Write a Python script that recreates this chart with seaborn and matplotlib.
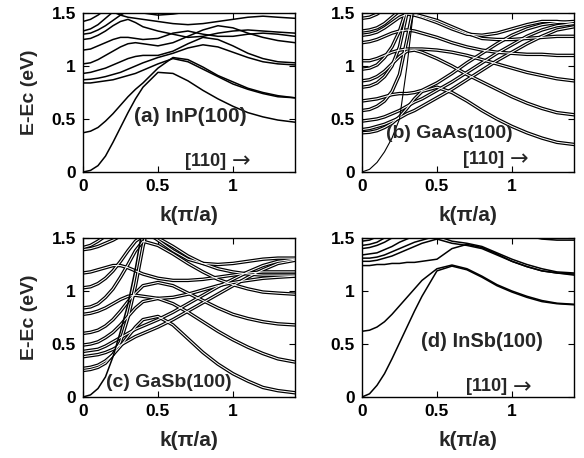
import numpy as np
import pandas as pd
import matplotlib
matplotlib.use("Agg")
import matplotlib.pyplot as plt
import seaborn as sns

N = float("nan")

# wave-vector sampling along [110], in units of pi/a
K = [0, 0.05, 0.1, 0.15, 0.2, 0.25, 0.3, 0.35, 0.4, 0.5, 0.6, 0.7, 0.8,
     0.9, 1.0, 1.1, 1.2, 1.3, 1.414]

# (a) InP(100) subbands, E - Ec in eV
inp_1 = [0.00, 0.015, 0.06, 0.15, 0.28, 0.42, 0.56, 0.69, 0.80, 0.94, 0.93, 0.86, 0.77, 0.69, 0.62, 0.56, 0.52, 0.49, 0.47]
inp_2 = [0.37, 0.385, 0.42, 0.48, 0.55, 0.63, 0.71, 0.78, 0.84, 0.98, 1.08, 1.06, 0.99, 0.91, 0.85, 0.79, 0.75, 0.72, 0.70]
inp_3 = [0.84, 0.84, 0.85, 0.86, 0.87, 0.89, 0.91, 0.93, 0.96, 1.02, 1.07, 1.04, 0.97, 0.90, 0.83, 0.78, 0.74, 0.71, 0.70]
inp_4 = [0.87, 0.875, 0.885, 0.90, 0.92, 0.94, 0.97, 1.00, 1.03, 1.08, 1.12, 1.17, 1.20, 1.18, 1.13, 1.08, 1.04, 1.02, 1.01]
inp_5 = [0.93, 0.94, 0.96, 0.98, 1.01, 1.04, 1.07, 1.09, 1.10, 1.10, 1.14, 1.21, 1.27, 1.25, 1.19, 1.12, 1.07, 1.04, 1.03]
inp_6 = [1.02, 1.03, 1.06, 1.10, 1.14, 1.18, 1.21, 1.22, 1.21, 1.19, 1.22, 1.28, 1.34, 1.38, 1.36, 1.31, 1.27, 1.24, 1.22]
inp_7 = [1.15, 1.16, 1.19, 1.22, 1.25, 1.27, 1.27, 1.26, 1.25, 1.26, 1.31, 1.33, 1.30, 1.28, 1.28, 1.30, 1.31, 1.30, 1.28]
inp_8 = [1.25, 1.26, 1.29, 1.33, 1.38, 1.42, 1.44, 1.41, 1.37, 1.33, 1.30, 1.27, 1.28, 1.31, 1.33, 1.34, 1.33, 1.32, 1.31]
inp_9 = [1.30, 1.31, 1.34, 1.38, 1.43, 1.48, 1.52, 1.54, 1.55, N, N, N, N, N, N, N, N, N, N]
inp_10 = [1.33, 1.35, 1.39, 1.45, 1.51, 1.58, N, N, N, N, N, N, N, N, N, N, N, N, N]
inp_11 = [1.42, 1.44, 1.48, 1.53, N, N, N, N, N, N, N, N, N, N, N, N, N, N, N]
inp_12 = [N, N, N, 1.56, 1.51, 1.48, 1.46, 1.45, 1.44, 1.42, 1.40, 1.39, 1.40, 1.42, 1.44, 1.46, 1.47, 1.46, 1.45]
inp_13 = [N, N, N, N, N, N, N, 1.53, 1.50, 1.48, 1.49, 1.51, 1.54, N, N, N, N, N, N]

# (b) GaAs(100) subbands
gaas_1 = [0.00, 0.025, 0.09, 0.19, 0.32, 0.50, 1.00, 1.60, N, N, N, N, N, N, N, N, N, N, N]
gaas_2 = [0.37, 0.375, 0.39, 0.42, 0.46, 0.52, 0.60, 0.69, 0.76, 0.80, 0.75, 0.67, 0.58, 0.50, 0.43, 0.37, 0.32, 0.28, 0.26]
gaas_3 = [0.40, 0.41, 0.43, 0.45, 0.48, 0.51, 0.55, 0.58, 0.62, 0.70, 0.78, 0.87, 0.96, 1.05, 1.13, 1.21, 1.28, 1.34, 1.37]
gaas_4 = [0.48, 0.49, 0.50, 0.52, 0.55, 0.58, 0.62, 0.66, 0.69, 0.77, 0.85, 0.94, 1.03, 1.12, 1.20, 1.28, 1.34, 1.38, 1.40]
gaas_5 = [0.58, 0.59, 0.62, 0.67, 0.76, 0.92, 1.25, 1.60, N, N, N, N, N, N, N, N, N, N, N]
gaas_6 = [0.67, 0.68, 0.69, 0.71, 0.73, 0.74, 0.74, 0.75, 0.77, 0.84, 0.93, 1.03, 1.12, 1.21, 1.29, 1.35, 1.39, 1.41, 1.42]
gaas_7 = [0.80, 0.81, 0.84, 0.90, 1.00, 1.18, 1.50, 1.80, N, N, N, N, N, N, N, N, N, N, N]
gaas_8 = [0.86, 0.87, 0.90, 0.95, 1.02, 1.09, 1.14, 1.15, 1.13, 1.07, 1.00, 0.92, 0.85, 0.78, 0.71, 0.65, 0.60, 0.56, 0.54]
gaas_9 = [0.97, 0.98, 1.01, 1.08, 1.18, 1.33, 1.55, N, N, N, N, N, N, N, N, N, N, N, N]
gaas_10 = [1.05, 1.05, 1.07, 1.10, 1.13, 1.15, 1.16, 1.16, 1.16, 1.15, 1.13, 1.10, 1.06, 1.02, 0.98, 0.94, 0.91, 0.88, 0.86]
gaas_11 = [1.22, 1.23, 1.25, 1.28, 1.31, 1.33, 1.34, 1.33, 1.31, 1.27, 1.22, 1.18, 1.15, 1.13, 1.12, 1.11, 1.11, 1.10, 1.10]
gaas_12 = [1.29, 1.30, 1.32, 1.36, 1.41, 1.46, 1.49, 1.48, 1.46, 1.41, 1.35, 1.30, 1.29, 1.31, 1.35, 1.39, 1.42, 1.42, 1.40]
gaas_13 = [1.33, 1.34, 1.36, 1.40, 1.46, 1.52, 1.60, N, N, N, N, N, N, N, N, N, N, N, N]
gaas_14 = [1.45, 1.46, 1.49, 1.54, 1.60, N, N, N, N, N, N, N, N, N, N, N, N, N, N]
gaas_15 = [N, N, N, N, N, N, 1.52, 1.49, 1.47, 1.43, 1.37, 1.31, 1.26, 1.25, 1.25, 1.26, 1.27, 1.28, 1.28]

# (c) GaSb(100) subbands
gasb_1 = [0.00, 0.02, 0.08, 0.19, 0.38, 0.62, 0.88, 1.22, 1.62, N, N, N, N, N, N, N, N, N, N]
gasb_2 = [0.25, 0.26, 0.28, 0.32, 0.40, 0.52, 0.75, 1.05, 1.42, 2.00, N, N, N, N, N, N, N, N, N]
gasb_3 = [0.27, 0.28, 0.30, 0.34, 0.40, 0.48, 0.57, 0.66, 0.73, 0.76, 0.68, 0.55, 0.42, 0.31, 0.22, 0.15, 0.09, 0.06, 0.04]
gasb_4 = [0.38, 0.39, 0.40, 0.42, 0.45, 0.49, 0.53, 0.57, 0.60, 0.66, 0.73, 0.81, 0.89, 0.97, 1.05, 1.13, 1.20, 1.26, 1.29]
gasb_5 = [0.43, 0.44, 0.45, 0.48, 0.52, 0.56, 0.60, 0.64, 0.67, 0.73, 0.80, 0.88, 0.96, 1.04, 1.11, 1.18, 1.24, 1.28, 1.30]
gasb_6 = [0.49, 0.50, 0.52, 0.56, 0.61, 0.68, 0.76, 0.84, 0.90, 0.93, 0.88, 0.80, 0.71, 0.62, 0.54, 0.47, 0.41, 0.36, 0.33]
gasb_7 = [0.60, 0.61, 0.63, 0.67, 0.73, 0.81, 0.90, 0.98, 1.05, 1.08, 1.05, 0.98, 0.91, 0.84, 0.78, 0.74, 0.71, 0.69, 0.68]
gasb_8 = [0.78, 0.79, 0.81, 0.84, 0.88, 0.92, 0.95, 0.96, 0.95, 0.93, 0.94, 0.97, 1.01, 1.05, 1.08, 1.10, 1.12, 1.13, 1.14]
gasb_9 = [0.84, 0.85, 0.88, 0.94, 1.02, 1.13, 1.25, 1.38, 1.47, 1.43, 1.35, 1.26, 1.18, 1.11, 1.06, 1.02, 0.99, 0.98, 0.97]
gasb_10 = [1.03, 1.04, 1.07, 1.12, 1.19, 1.28, 1.38, 1.47, 1.52, 1.50, 1.42, 1.33, 1.26, 1.21, 1.18, 1.16, 1.15, 1.15, 1.15]
gasb_11 = [1.17, 1.18, 1.20, 1.22, 1.24, 1.24, 1.22, 1.19, 1.16, 1.12, 1.10, 1.10, 1.11, 1.13, 1.15, 1.17, 1.18, 1.18, 1.18]
gasb_12 = [1.39, 1.40, 1.42, 1.45, 1.48, 1.52, 1.58, N, N, N, N, N, N, N, N, N, N, N, N]
gasb_13 = [1.41, 1.43, 1.47, 1.52, 1.58, N, N, N, N, N, N, N, N, N, N, N, N, N, N]
gasb_14 = [N, N, N, N, N, N, N, N, 1.58, 1.48, 1.38, 1.30, 1.26, 1.25, 1.26, 1.28, 1.30, 1.31, 1.31]

# (d) InSb(100) subbands
insb_1 = [0.00, 0.03, 0.11, 0.22, 0.36, 0.51, 0.66, 0.81, 0.95, 1.19, 1.235, 1.20, 1.13, 1.05, 0.99, 0.94, 0.90, 0.88, 0.87]
insb_2 = [0.62, 0.63, 0.66, 0.71, 0.78, 0.86, 0.94, 1.02, 1.10, 1.21, 1.245, 1.21, 1.14, 1.06, 1.00, 0.95, 0.91, 0.885, 0.875]
insb_3 = [1.24, 1.24, 1.25, 1.25, 1.26, 1.26, 1.27, 1.27, 1.28, 1.30, 1.40, 1.44, 1.41, 1.35, 1.28, 1.23, 1.19, 1.17, 1.16]
insb_4 = [1.28, 1.28, 1.29, 1.31, 1.33, 1.36, 1.39, 1.42, 1.45, 1.49, 1.45, 1.43, 1.40, 1.34, 1.28, 1.23, 1.19, 1.17, 1.15]
insb_5 = [1.31, 1.31, 1.32, 1.34, 1.37, 1.40, 1.43, 1.46, 1.48, 1.52, 1.47, 1.45, 1.42, 1.36, 1.30, 1.25, 1.21, 1.18, 1.17]
insb_6 = [1.34, 1.35, 1.36, 1.39, 1.42, 1.46, 1.49, 1.52, N, N, N, N, N, N, N, N, N, N, N]
insb_7 = [1.40, 1.41, 1.43, 1.46, 1.50, 1.54, N, N, N, N, N, N, N, N, N, N, N, N, N]
insb_8 = [1.43, 1.44, 1.46, 1.50, 1.55, N, N, N, N, N, N, N, N, N, N, N, N, N, N]
insb_9 = [1.47, 1.48, 1.51, N, N, N, N, N, N, N, N, N, N, N, N, N, N, N, N]
insb_10 = [N, N, N, N, N, N, N, N, N, N, N, N, N, N, N, 1.52, 1.49, 1.48, 1.48]

X_TICKS = [0, 0.5, 1]
X_TICK_LABELS = ["0", "0.5", "1"]
Y_TICKS = [0, 0.5, 1, 1.5]
Y_TICK_LABELS = ["0", "0.5", "1", "1.5"]
TITLES = ["(a) InP(100)", "(b) GaAs(100)", "(c) GaSb(100)", "(d) InSb(100)"]
DIRECTION = "[110]"

sns.set_style("ticks")
plt.rcParams["font.family"] = ["Liberation Sans", "DejaVu Sans"]
plt.rcParams["font.weight"] = "bold"


def band_frame(bands):
    rows = []
    for b, energies in enumerate(bands):
        for k, e in zip(K, energies):
            rows.append((b, k, e))
    return pd.DataFrame(rows, columns=["band", "k", "E"]).dropna()


def draw_single(ax, bands, lw=1.1):
    sns.lineplot(data=band_frame(bands), x="k", y="E", units="band",
                 estimator=None, sort=False, color="black", lw=lw,
                 legend=False, ax=ax)


def draw_double(ax, bands):
    # near-degenerate subband pairs: dark outline with a light core
    df = band_frame(bands)
    sns.lineplot(data=df, x="k", y="E", units="band", estimator=None,
                 sort=False, color="black", lw=2.5, legend=False, ax=ax)
    sns.lineplot(data=df, x="k", y="E", units="band", estimator=None,
                 sort=False, color="white", lw=0.75, legend=False, ax=ax)


fig = plt.figure(figsize=(5.84, 4.58), dpi=100)
W, H = 584, 458
boxes = [(83, 13, 212, 159), (362, 13, 212, 159),
         (83, 238, 212, 159), (362, 238, 212, 159)]
axes = [fig.add_axes([x / W, 1 - (y + h) / H, w / W, h / H]) for x, y, w, h in boxes]
ax_a, ax_b, ax_c, ax_d = axes

draw_single(ax_a, [inp_1, inp_2, inp_3, inp_4, inp_5, inp_6, inp_7,
                   inp_8, inp_9, inp_10, inp_11, inp_12, inp_13])

draw_double(ax_b, [gaas_2, gaas_3, gaas_4, gaas_5, gaas_6, gaas_7, gaas_8,
                   gaas_9, gaas_10, gaas_11, gaas_12, gaas_13, gaas_14, gaas_15])
draw_single(ax_b, [gaas_1], lw=0.8)

draw_double(ax_c, [gasb_2, gasb_3, gasb_4, gasb_5, gasb_6, gasb_7, gasb_8,
                   gasb_9, gasb_10, gasb_11, gasb_12, gasb_13, gasb_14])
draw_single(ax_c, [gasb_1], lw=1.1)

draw_single(ax_d, [insb_1, insb_2, insb_3, insb_4, insb_5, insb_6, insb_7,
                   insb_8, insb_9, insb_10])

for i, ax in enumerate(axes):
    ax.set_xlim(0, 1.414)
    ax.set_ylim(0, 1.5)
    ax.set_xticks(X_TICKS)
    ax.set_xticklabels(X_TICK_LABELS)
    ax.set_yticks(Y_TICKS)
    ax.set_yticklabels(Y_TICK_LABELS)
    ax.tick_params(direction="in", length=4, width=0.8, top=True, right=True,
                   labelsize=12.5, pad=5, colors="black")
    for lab in ax.get_xticklabels() + ax.get_yticklabels():
        lab.set_fontweight("bold")
    for s in ax.spines.values():
        s.set_visible(True)
        s.set_linewidth(1.0)
        s.set_color("black")
    ax.set_xlabel("k(π/a)", fontsize=15, fontweight="bold", labelpad=9)
    if i in (0, 2):
        ax.set_ylabel("E-Ec (eV)", fontsize=14, fontweight="bold", labelpad=10)
    else:
        ax.set_ylabel("")

title_pos = [(0.715, 0.525), (0.58, 0.36), (0.57, 0.14), (0.80, 0.52)]
title_size = [15, 14, 14, 14.5]
for ax, t, (x, y), fs in zip(axes, TITLES, title_pos, title_size):
    ax.text(x, y, t, fontsize=fs, fontweight="bold", ha="center", va="center")

arrow_pos = {0: (0.955, 0.10), 1: (0.945, 0.12), 3: (0.965, 0.095)}
for i, (x, y) in arrow_pos.items():
    axes[i].text(x, y, DIRECTION, fontsize=13, fontweight="bold",
                 ha="right", va="center")
    axes[i].text(x + 0.04, y, "\u2192", fontsize=16, fontweight="normal",
                 family=["DejaVu Sans"], ha="left", va="center")

fig.savefig("out.png", dpi=100)
